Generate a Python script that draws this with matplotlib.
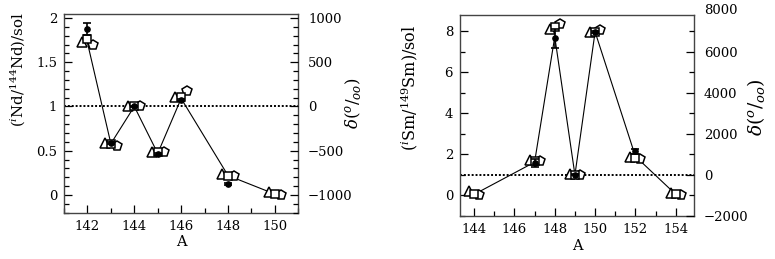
import numpy as np
import matplotlib
matplotlib.use("Agg")
import matplotlib.pyplot as plt
import matplotlib.transforms as mtransforms
from matplotlib.ticker import MultipleLocator, FormatStrFormatter

# ---- Nd panel ----
nd_A = [142, 143, 144, 145, 146, 148, 150]
nd_tri = [1.73, 0.585, 1.0, 0.49, 1.11, 0.24, 0.03]
nd_sq = [1.76, 0.58, 1.0, 0.48, 1.11, 0.215, 0.01]
nd_pent = [1.69, 0.55, 1.0, 0.48, 1.18, 0.215, 0.0]
nd_line = [1.72, 0.58, 1.0, 0.47, 1.09, 0.22, 0.01]
nd_obs_A = [142, 143, 144, 145, 146, 148]
nd_obs = [1.875, 0.585, 1.0, 0.465, 1.075, 0.12]
nd_obs_err = [0.07, 0.01, 0.01, 0.01, 0.01, 0.01]

# ---- Sm panel ----
sm_A = [144, 147, 148, 149, 150, 152, 154]
sm_tri = [0.21, 1.74, 8.08, 1.02, 7.96, 1.86, 0.13]
sm_sq = [0.05, 1.66, 8.2, 1.0, 7.96, 1.8, 0.05]
sm_pent = [0.0, 1.7, 8.32, 1.0, 8.05, 1.78, 0.02]
sm_line = [0.05, 1.62, 7.72, 1.0, 7.96, 1.9, 0.05]
sm_obs_A = [147, 148, 149, 150, 152]
sm_obs = [1.58, 7.64, 1.0, 7.96, 2.15]
sm_obs_err = [0.18, 0.45, 0.02, 0.05, 0.13]

plt.rcParams['font.family'] = ['DejaVu Serif']
plt.rcParams['mathtext.fontset'] = 'dejavuserif'

fig = plt.figure(figsize=(7.75, 2.59), dpi=100)
TICK_FS = 9.5


def panel(rect, A, tri, sq, pent, line, oA, obs, err, xlim, ylim,
          xmaj, ymaj, ymin, dmaj, dmin, ylabel, lsize, dsize, lpos, dpos):
    ax = fig.add_axes(rect)
    A = np.array(A, dtype=float)
    off = 0.25
    ax.plot(A, line, color='black', lw=0.8, zorder=2)
    ax.axhline(1.0, color='black', lw=1.4, ls=(0, (1, 1)), zorder=1)
    ax.plot(A - off, tri, ls='none', marker='^', ms=7, mfc='white',
            mec='black', mew=1.1, zorder=3)
    ax.plot(A, sq, ls='none', marker='s', ms=5.5, mfc='white',
            mec='black', mew=1.1, zorder=4)
    ax.plot(A + off, pent, ls='none', marker='p', ms=7.5, mfc='white',
            mec='black', mew=1.1, zorder=3)
    ax.errorbar(oA, obs, yerr=err, fmt='o', ms=3.8, color='black',
                capsize=3, elinewidth=1.2, capthick=1.2, zorder=5)
    ax.set_xlim(*xlim)
    ax.set_ylim(*ylim)
    ax.xaxis.set_major_locator(MultipleLocator(xmaj))
    ax.xaxis.set_minor_locator(MultipleLocator(1))
    ax.yaxis.set_major_locator(MultipleLocator(ymaj))
    ax.yaxis.set_minor_locator(MultipleLocator(ymin))
    ax.yaxis.set_major_formatter(FormatStrFormatter('%g'))
    ax.tick_params(which='both', direction='in', top=False, right=False,
                   labelsize=TICK_FS, pad=5)
    ax.tick_params(which='major', length=6, width=0.9)
    ax.tick_params(which='minor', length=3.5, width=0.9)
    for s in ax.spines.values():
        s.set_linewidth(1.0)
        s.set_color('#444444')
    ax.set_xlabel('A', fontsize=10.5, labelpad=2)
    ax.set_ylabel(ylabel, fontsize=lsize)
    ax.yaxis.set_label_coords(*lpos)

    ax2 = ax.twinx()
    ax2.set_ylim((ylim[0] - 1) * 1000, (ylim[1] - 1) * 1000)
    ax2.yaxis.set_major_locator(MultipleLocator(dmaj))
    ax2.yaxis.set_minor_locator(MultipleLocator(dmin))
    ax2.tick_params(which='both', direction='in', labelsize=TICK_FS, pad=7)
    ax2.tick_params(which='major', length=6, width=0.9)
    ax2.tick_params(which='minor', length=3.5, width=0.9)
    ax2.set_yticks(ax2.get_yticks())
    ax2.set_yticklabels([f"{int(v)}".replace('-', '\u2212')
                         for v in ax2.get_yticks()])
    ax2.set_ylim((ylim[0] - 1) * 1000, (ylim[1] - 1) * 1000)
    for s in ax2.spines.values():
        s.set_visible(False)
    ax2.set_ylabel(r'$\delta(^{o}/_{oo})$', fontsize=dsize)
    ax2.yaxis.set_label_coords(*dpos)
    return ax, ax2


ax, ax2 = panel([0.0826, 0.1788, 0.3023, 0.769], nd_A, nd_tri, nd_sq, nd_pent,
                nd_line, nd_obs_A, nd_obs, nd_obs_err, (141, 151), (-0.2, 2.05),
                2, 0.5, 0.1, 500, 100,
                r'$(^{i}\mathrm{Nd}/^{144}\mathrm{Nd})/\mathrm{sol}$', 10.8, 12,
                (-0.16, 0.72), (1.19, 0.55))

bx, bx2 = panel([0.5935, 0.166, 0.3019, 0.776], sm_A, sm_tri, sm_sq, sm_pent,
                sm_line, sm_obs_A, sm_obs, sm_obs_err, (143.3, 154.9), (-1.0, 8.78),
                2, 2, 1, 2000, 1000,
                r'$(^{i}\mathrm{Sm}/^{149}\mathrm{Sm})/\mathrm{sol}$', 11.5, 13.5,
                (-0.17, 0.64), (1.22, 0.54))
# top label of the delta axis sits just above the frame
off = mtransforms.ScaledTranslation(7 / 72, 0, fig.dpi_scale_trans)
bx2.text(1.0, 8000, '8000', transform=bx2.get_yaxis_transform() + off,
         ha='left', va='center', fontsize=TICK_FS, clip_on=False)

fig.savefig('out.png', dpi=100)
